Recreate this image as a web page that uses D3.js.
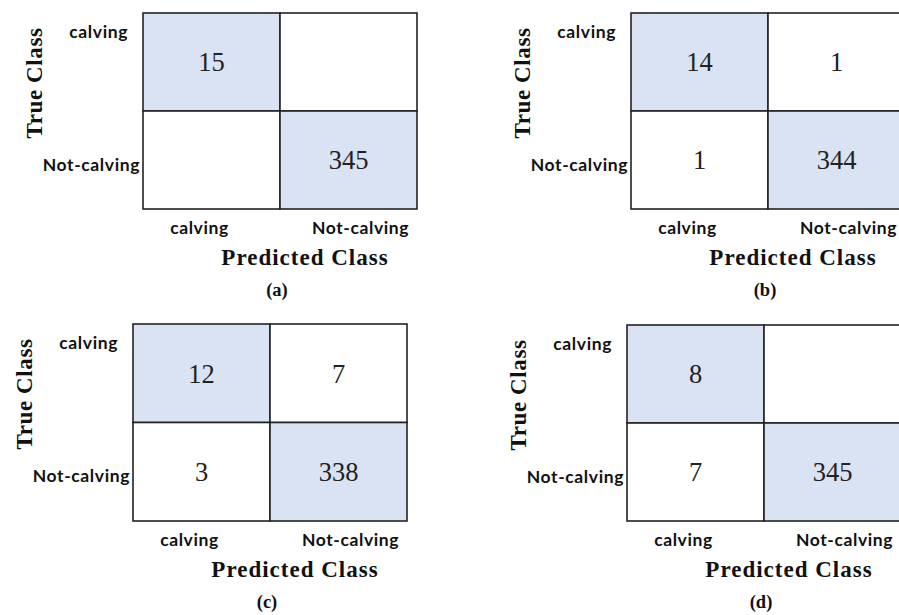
<!DOCTYPE html>
<html>
<head>
<meta charset="utf-8">
<script src="https://cdn.jsdelivr.net/npm/d3@7"></script>
<style>
  html, body { margin: 0; padding: 0; background: #fff; }
  svg { display: block; }
</style>
</head>
<body>
<div id="chart"></div>
<script>
// ---- data ----
const classes = ["calving", "Not-calving"];
const panelLabels = ["(a)", "(b)", "(c)", "(d)"];
// confusion matrices: rows = true class, cols = predicted class; null = blank cell
const matrixA = [[15, null], [null, 345]];
const matrixB = [[14, 1], [1, 344]];
const matrixC = [[12, 7], [3, 338]];
const matrixD = [[8, null], [7, 345]];
const matrices = [matrixA, matrixB, matrixC, matrixD];
const xTitle = "Predicted Class";
const yTitle = "True Class";

// ---- layout ----
const W = 899, H = 615;
const panelBoxes = [
  { left: 143, top: 13, w: 274, h: 196 },
  { left: 631, top: 13, w: 274, h: 196 },
  { left: 133, top: 324, w: 274, h: 197 },
  { left: 627, top: 325, w: 274, h: 196 }
];
const fillDiag = "#dae3f3";
const strokeCol = "#222";
const sansBold = "Lato, 'Open Sans', sans-serif";
const serif = "'Liberation Serif', 'DejaVu Serif', serif";

const svg = d3.select("#chart").append("svg")
  .attr("width", W).attr("height", H);

function sansLabel(g) {
  return g.append("text")
    .attr("dy", "0.35em")
    .attr("font-family", sansBold).attr("font-weight", "bold")
    .attr("font-size", 17.5).attr("letter-spacing", 0.6).attr("fill", "#111");
}

matrices.forEach((m, pi) => {
  const b = panelBoxes[pi];
  const g = svg.append("g").attr("transform", `translate(${b.left},${b.top})`);
  const x = d3.scaleBand().domain(classes).range([0, b.w]);
  const y = d3.scaleBand().domain(classes).range([0, b.h]);

  const cells = [];
  classes.forEach((tc, i) => classes.forEach((pc, j) => cells.push({ tc, pc, v: m[i][j], diag: i === j })));

  g.selectAll("rect.cell").data(cells).join("rect")
    .attr("class", "cell")
    .attr("x", d => x(d.pc)).attr("y", d => y(d.tc))
    .attr("width", x.bandwidth()).attr("height", y.bandwidth())
    .attr("fill", d => d.diag ? fillDiag : "#fff")
    .attr("stroke", strokeCol).attr("stroke-width", 1.6);

  g.selectAll("text.val").data(cells.filter(d => d.v !== null)).join("text")
    .attr("class", "val")
    .attr("x", d => x(d.pc) + x.bandwidth() / 2)
    .attr("y", d => y(d.tc) + y.bandwidth() / 2)
    .attr("dy", "0.35em")
    .attr("text-anchor", "middle")
    .attr("font-family", serif).attr("font-size", 26.5).attr("fill", "#222")
    .text(d => d.v);

  // row labels (true class)
  sansLabel(g).attr("x", -15).attr("y", 19).attr("text-anchor", "end").text(classes[0]);
  sansLabel(g).attr("x", -3).attr("y", 152).attr("text-anchor", "end").text(classes[1]);

  // column labels (predicted class)
  sansLabel(g).attr("x", x(classes[0]) + x.bandwidth() / 2 - 12).attr("y", b.h + 19)
    .attr("text-anchor", "middle").text(classes[0]);
  sansLabel(g).attr("x", x(classes[1]) + x.bandwidth() / 2 + 12).attr("y", b.h + 19)
    .attr("text-anchor", "middle").text(classes[1]);

  // axis titles
  g.append("text")
    .attr("x", 162).attr("y", b.h + 48).attr("dy", "0.35em")
    .attr("text-anchor", "middle")
    .attr("font-family", serif).attr("font-weight", "bold").attr("font-size", 23)
    .attr("letter-spacing", 1).attr("fill", "#111")
    .text(xTitle);
  g.append("text")
    .attr("transform", `translate(-109,70) rotate(-90)`)
    .attr("dy", "0.35em")
    .attr("text-anchor", "middle")
    .attr("font-family", serif).attr("font-weight", "bold").attr("font-size", 23)
    .attr("letter-spacing", 0.6).attr("fill", "#111")
    .text(yTitle);

  // panel label
  g.append("text")
    .attr("x", 134).attr("y", b.h + 81).attr("dy", "0.35em")
    .attr("text-anchor", "middle")
    .attr("font-family", serif).attr("font-weight", "bold").attr("font-size", 18.5).attr("fill", "#111")
    .text(panelLabels[pi]);
});
</script>
</body>
</html>
